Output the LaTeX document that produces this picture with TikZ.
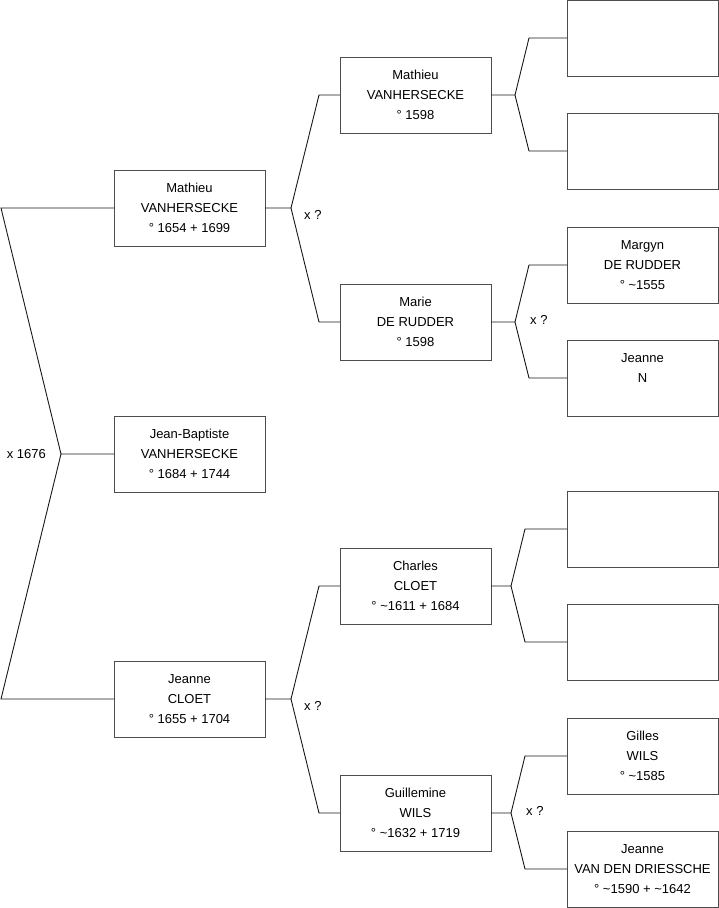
\documentclass[tikz,border=0pt]{standalone}
\usepackage{fontspec}
\setmainfont{Liberation Sans}
\usetikzlibrary{positioning}

\begin{document}
\begin{tikzpicture}[
    x=1pt,
    y=1pt,
    person/.style={
        rectangle,
        draw=black!70,
        line width=1pt,
        outer sep=0pt,
        inner sep=0pt,
        minimum width=151pt,
        minimum height=76pt,
        align=center,
        font=\fontsize{13}{20}\selectfont
      },
    link/.style={line width=0.9pt,black!90},
    mariage/.style={inner sep=0pt,font=\fontsize{13}{20}\selectfont}
    ]

    \useasboundingbox (0,0) rectangle (719,-908);

    % generation 1
    \node[person] (mat1) at (189.5,-208) {Mathieu\\VANHERSECKE\\° 1654 + 1699};
    \node[person,below=170pt of mat1] (jb) {Jean-Baptiste\\VANHERSECKE\\° 1684 + 1744};
    \node[person,below=169pt of jb] (jea1) {Jeanne\\CLOET\\° 1655 + 1704};

    % generation 2
    \node[person,right=75pt of mat1,yshift=113pt] (mat2) {Mathieu\\VANHERSECKE\\° 1598};
    \node[person,right=75pt of mat1,yshift=-114pt] (mar) {Marie\\DE RUDDER\\° 1598};
    \node[person,right=75pt of jea1,yshift=113pt] (cha) {Charles\\CLOET\\° \textasciitilde1611 + 1684};
    \node[person,right=75pt of jea1,yshift=-114pt] (gui) {Guillemine\\WILS\\° \textasciitilde1632 + 1719};

    % generation 3
    \node[person,right=76pt of mat2,yshift=57pt] (e1) {};
    \node[person,right=76pt of mat2,yshift=-56pt] (e2) {};
    \node[person,right=76pt of mar,yshift=57pt] (mgy) {Margyn\\DE RUDDER\\° \textasciitilde1555};
    \node[person,right=76pt of mar,yshift=-56pt] (jn) {Jeanne\\N\\\mbox{}};
    \node[person,right=76pt of cha,yshift=57pt] (e3) {};
    \node[person,right=76pt of cha,yshift=-56pt] (e4) {};
    \node[person,right=76pt of gui,yshift=57pt] (gil) {Gilles\\WILS\\° \textasciitilde1585};
    \node[person,right=76pt of gui,yshift=-56pt] (jvd) {Jeanne\\VAN DEN DRIESSCHE\\° \textasciitilde1590 + \textasciitilde1642};

    % forks
    \coordinate[left=53pt of jb.west] (v0);
    \coordinate[right=26pt of mat1.east] (v1);
    \coordinate[right=26pt of jea1.east] (v2);
    \coordinate[right=24pt of mat2.east] (v3);
    \coordinate[right=24pt of mar.east] (v4);
    \coordinate[right=20pt of cha.east] (v5);
    \coordinate[right=20pt of gui.east] (v6);

    \draw[link] (mat1.west)--++(-113,0)--(v0)--(jb.west);
    \draw[link] (jea1.west)--++(-113,0)--(v0);

    \draw[link] (mat1.east)--(v1)--([xshift=-21pt]mat2.west)--(mat2.west);
    \draw[link] (v1)--([xshift=-21pt]mar.west)--(mar.west);
    \draw[link] (jea1.east)--(v2)--([xshift=-21pt]cha.west)--(cha.west);
    \draw[link] (v2)--([xshift=-21pt]gui.west)--(gui.west);

    \draw[link] (mat2.east)--(v3)--([xshift=-38pt]e1.west)--(e1.west);
    \draw[link] (v3)--([xshift=-38pt]e2.west)--(e2.west);
    \draw[link] (mar.east)--(v4)--([xshift=-38pt]mgy.west)--(mgy.west);
    \draw[link] (v4)--([xshift=-38pt]jn.west)--(jn.west);
    \draw[link] (cha.east)--(v5)--([xshift=-42pt]e3.west)--(e3.west);
    \draw[link] (v5)--([xshift=-42pt]e4.west)--(e4.west);
    \draw[link] (gui.east)--(v6)--([xshift=-42pt]gil.west)--(gil.west);
    \draw[link] (v6)--([xshift=-42pt]jvd.west)--(jvd.west);

    % marriages
    \node[mariage,left=15pt of v0] (m0) {x 1676};
    \node[mariage,right=13pt of v1,yshift=-7pt] (m1) {x ?};
    \node[mariage,right=13pt of v2,yshift=-7pt] (m2) {x ?};
    \node[mariage,right=15pt of v4,yshift=2pt] (m4) {x ?};
    \node[mariage,right=15pt of v6,yshift=2pt] (m6) {x ?};

  \end{tikzpicture}
\end{document}
